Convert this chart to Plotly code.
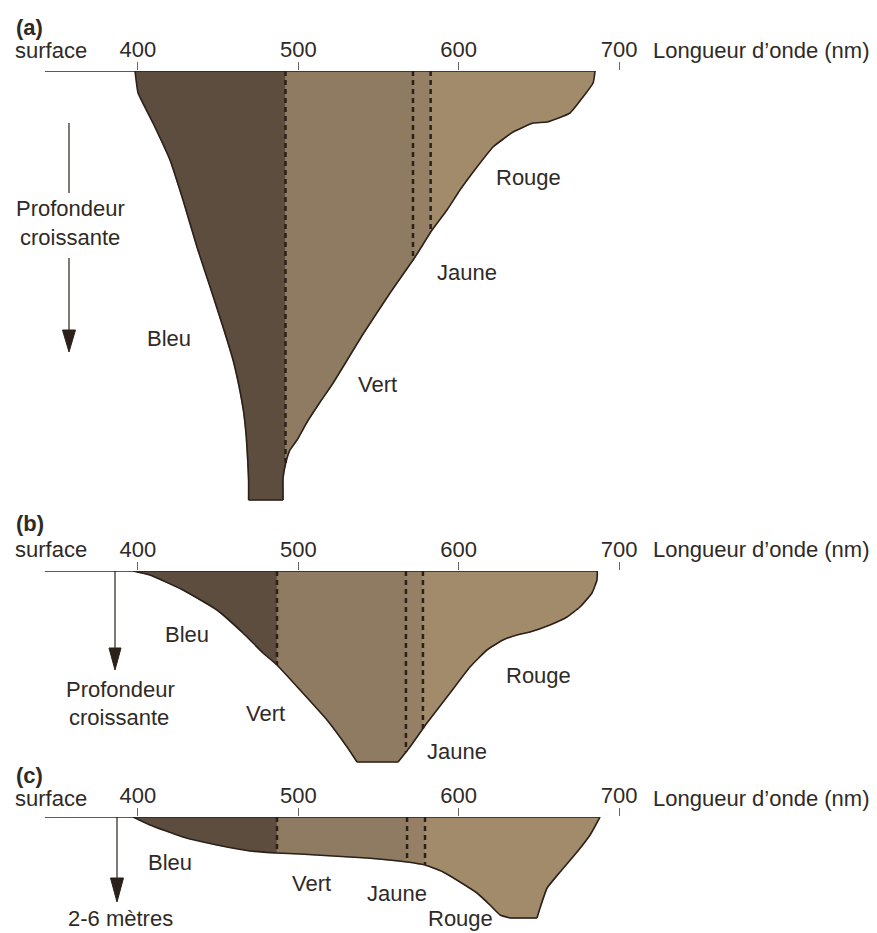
import plotly.graph_objects as go

W, H = 877, 933
FONT = "Liberation Sans, Arial, sans-serif"
INK = "#2b211a"
TEXT = "#2f2a26"

# Wavelength axis (nm)
wl_ticks = [400, 500, 600, 700]
wl_range = [314.0, 860.8]
surface_start = 342.0

# Colour bands along the spectrum
band_names = ["Bleu", "Vert", "Jaune", "Rouge"]
band_colors = ["#5d4d3e", "#8f7b61", "#968065", "#a28b6b"]

# (a) clear ocean water: lower limit of penetration (relative depth) vs wavelength
a_wl = [398.2, 400.1, 409.4, 420.0, 428.1, 436.8, 445.0, 453.1, 459.3, 463.0, 465.8,
        467.5, 468.5, 469.0, 469.0, 490.5, 490.5, 492.3, 494.8, 499.2, 505.5, 513.6,
        521.7, 540.4, 557.2, 572.8, 583.4, 592.7, 600.8, 611.4, 621.4, 633.9, 646.3,
        655.1, 669.4, 677.5, 683.8, 685.0]
a_depth = [0, 22, 52, 89, 129, 176, 216, 256, 289, 315, 340, 365, 390, 410, 429, 429,
           407, 391, 379, 369, 351, 331, 312, 263, 222, 186, 159, 139, 119, 96, 76, 61,
           52, 51, 42, 26, 12, 0]
a_bounds = [492.0, 571.5, 582.5]

# (b) coastal water
b_wl = [397.0, 407.5, 428.1, 449.3, 465.5, 478.0, 486.7, 501.1, 517.9, 530.4, 536.6,
        562.2, 569.6, 580.2, 594.6, 607.0, 617.6, 627.6, 636.3, 644.4, 656.9, 667.5,
        675.6, 683.1, 686.2, 686.4]
b_depth = [0, 4, 19, 39, 62, 82, 94, 119, 149, 176, 191, 191, 176, 152, 122, 96, 79,
           69, 64, 61, 54, 46, 36, 22, 9, 0]
b_bounds = [486.7, 567.1, 577.7]

# (c) turbid water (2-6 m)
c_wl = [397.0, 407.5, 428.1, 449.3, 469.9, 486.7, 501.1, 521.6, 542.8, 567.8, 579.0,
        590.3, 600.8, 611.4, 619.5, 625.8, 632.0, 648.8, 650.7, 655.1, 663.2, 673.8,
        681.9, 688.1]
c_depth = [0, 8, 20, 28, 34, 36, 37, 39, 41, 45, 48, 55, 65, 76, 88, 98, 101, 101, 91,
           71, 55, 35, 18, 0]
c_bounds = [486.7, 567.8, 579.0]


def px(x):
    return x / W


def py(y):
    return 1 - y / H


panels = [
    dict(tag="(a)", wl=a_wl, depth=a_depth, bounds=a_bounds,
         top=71, bottom=505, dmax=434,
         label_pos=[(169, 338), (377, 385), (467, 272), (528, 177)],
         head_y=27, title_y=50,
         side_text=[("Profondeur", 70, 208), ("croissante", 70, 238)],
         arrow_x=69, arrow_segments=[(123, 193), (258, 330)], arrow_tip=352, arrow_w=13),
    dict(tag="(b)", wl=b_wl, depth=b_depth, bounds=b_bounds,
         top=571, bottom=770, dmax=199,
         label_pos=[(187, 634), (265, 713), (457, 751), (538, 675)],
         head_y=523, title_y=549,
         side_text=[("Profondeur", 120, 689), ("croissante", 119, 717)],
         arrow_x=115, arrow_segments=[(571, 648)], arrow_tip=670, arrow_w=12),
    dict(tag="(c)", wl=c_wl, depth=c_depth, bounds=c_bounds,
         top=817, bottom=925, dmax=108,
         label_pos=[(170, 862), (311, 883), (397, 893), (460, 918)],
         head_y=775, title_y=798,
         side_text=[("2-6 mètres", 120, 918)],
         arrow_x=117, arrow_segments=[(817, 878)], arrow_tip=902, arrow_w=13),
]


def split_bands(wl, depth, bounds):
    def cross(b):
        for i in range(len(wl) - 1):
            x0, x1 = wl[i], wl[i + 1]
            if x0 <= b < x1:
                t = (b - x0) / (x1 - x0)
                return i, depth[i] + t * (depth[i + 1] - depth[i])
        raise ValueError(b)

    edges = [None] + list(bounds) + [None]
    bands = []
    for lo, hi in zip(edges[:-1], edges[1:]):
        if lo is None:
            xs, ys = [wl[0]], [depth[0]]
            first = 1
            lo_x = wl[0]
        else:
            i, d = cross(lo)
            xs, ys = [lo, lo], [0, d]
            first = i + 1
            lo_x = lo
        if hi is None:
            last = len(wl) - 1
            tail_x, tail_y = [], []
        else:
            j, d = cross(hi)
            last = j
            tail_x, tail_y = [hi, hi], [d, 0]
        xs += wl[first:last + 1] + tail_x + [lo_x]
        ys += depth[first:last + 1] + tail_y + [0]
        bands.append((xs, ys))
    crossings = [(b, cross(b)[1]) for b in bounds]
    return bands, crossings


def outline_pieces(wl, depth):
    """Split the lower outline at the flat bottom so each side is smoothed alone."""
    cuts = [0]
    for i in range(len(wl) - 1):
        if depth[i] > 0 and depth[i] == depth[i + 1]:
            cuts += [i, i + 1]
    cuts.append(len(wl) - 1)
    pieces = []
    for s, e in zip(cuts[:-1], cuts[1:]):
        if e > s:
            pieces.append((wl[s:e + 1], depth[s:e + 1]))
    return pieces


fig = go.Figure()
annotations = []
shapes = []
layout_axes = {}

for k, p in enumerate(panels, start=1):
    xa = "x" if k == 1 else f"x{k}"
    ya = "y" if k == 1 else f"y{k}"
    bands, crossings = split_bands(p["wl"], p["depth"], p["bounds"])

    for (xs, ys), color, name in zip(bands, band_colors, band_names):
        fig.add_trace(go.Scatter(x=xs, y=ys, mode="lines", fill="toself",
                                 fillcolor=color, line=dict(width=0.6, color=color),
                                 hoverinfo="skip", name=name, xaxis=xa, yaxis=ya))
    for b, d in crossings:
        fig.add_trace(go.Scatter(x=[b, b], y=[0, d], mode="lines",
                                 line=dict(color=INK, width=2.5, dash="5px,4px"),
                                 hoverinfo="skip", xaxis=xa, yaxis=ya))
    for xs, ys in outline_pieces(p["wl"], p["depth"]):
        fig.add_trace(go.Scatter(x=xs, y=ys, mode="lines",
                                 line=dict(color=INK, width=1.6, shape="spline",
                                           smoothing=0.4),
                                 hoverinfo="skip", xaxis=xa, yaxis=ya))
    fig.add_trace(go.Scatter(x=[surface_start, p["wl"][-1]], y=[0, 0], mode="lines",
                             line=dict(color=INK, width=1.5),
                             hoverinfo="skip", xaxis=xa, yaxis=ya))

    sfx = "" if k == 1 else str(k)
    layout_axes[f"xaxis{sfx}"] = dict(
        domain=[0, 1], range=wl_range, anchor=ya, side="top",
        tickvals=wl_ticks, ticktext=[str(t) for t in wl_ticks],
        ticks="outside", ticklen=8, tickwidth=1, tickcolor="#666",
        ticklabelstandoff=-4,
        tickfont=dict(family=FONT, size=22, color=TEXT),
        showgrid=False, zeroline=False, showline=False, automargin=False,
        fixedrange=True)
    layout_axes[f"yaxis{sfx}"] = dict(
        domain=[py(p["bottom"]), py(p["top"])], range=[p["dmax"], 0], anchor=xa,
        visible=False, fixedrange=True)

    # panel letter, surface and axis title
    annotations.append(dict(text="<b>" + p["tag"] + "</b>", x=px(14), y=py(p["head_y"]),
                            xref="paper", yref="paper", xanchor="left", yanchor="middle",
                            showarrow=False, font=dict(family=FONT, size=22, color=TEXT)))
    annotations.append(dict(text="surface", x=px(13), y=py(p["title_y"]),
                            xref="paper", yref="paper", xanchor="left", yanchor="middle",
                            showarrow=False, font=dict(family=FONT, size=22, color=TEXT)))
    annotations.append(dict(text="Longueur d’onde (nm)", x=px(651), y=py(p["title_y"]),
                            xref="paper", yref="paper", xanchor="left", yanchor="middle",
                            showarrow=False, font=dict(family=FONT, size=22, color=TEXT)))
    # colour band labels
    for name, (lx, ly) in zip(band_names, p["label_pos"]):
        annotations.append(dict(text=name, x=px(lx), y=py(ly), xref="paper", yref="paper",
                                xanchor="center", yanchor="middle", showarrow=False,
                                borderpad=0,
                                font=dict(family=FONT, size=22, color=TEXT)))
    for txt, tx, ty in p["side_text"]:
        annotations.append(dict(text=txt, x=px(tx), y=py(ty), xref="paper", yref="paper",
                                xanchor="center", yanchor="middle", showarrow=False,
                                borderpad=0,
                                font=dict(family=FONT, size=22, color=TEXT)))
    # depth arrow
    ax = p["arrow_x"]
    for y0, y1 in p["arrow_segments"]:
        shapes.append(dict(type="line", xref="paper", yref="paper",
                           x0=px(ax), x1=px(ax), y0=py(y0), y1=py(y1),
                           line=dict(color=INK, width=1.2)))
    hy = p["arrow_segments"][-1][1]
    hw = p["arrow_w"] / 2
    tip = p["arrow_tip"]
    path = (f"M {px(ax - hw)} {py(hy)} L {px(ax + hw)} {py(hy)} "
            f"L {px(ax)} {py(tip)} Z")
    shapes.append(dict(type="path", xref="paper", yref="paper", path=path,
                       fillcolor=INK, line=dict(color=INK, width=1)))

fig.update_layout(
    width=W, height=H, margin=dict(l=0, r=0, t=0, b=0),
    paper_bgcolor="white", plot_bgcolor="white", showlegend=False,
    annotations=annotations, shapes=shapes, **layout_axes)

fig.write_html("out.html")
